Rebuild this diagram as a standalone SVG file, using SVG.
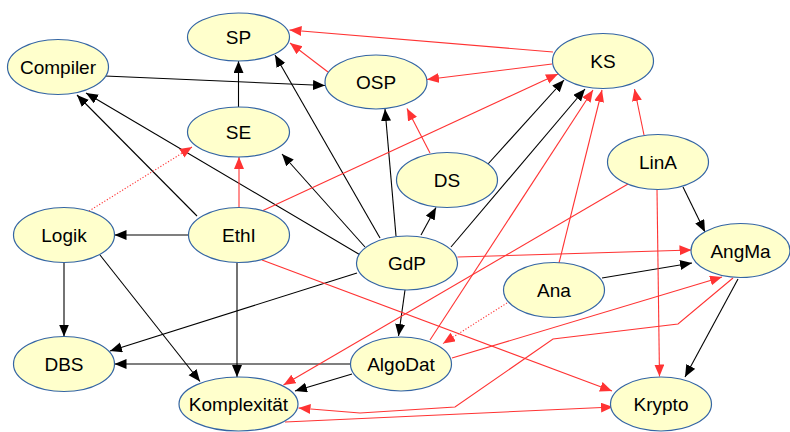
<svg xmlns="http://www.w3.org/2000/svg" width="790" height="432" viewBox="0 0 790 432">
<style>
.n ellipse{fill:#ffffcc;stroke:#3465a4;stroke-width:1.2}
.n text{font-family:"Liberation Sans",Arial,sans-serif;font-size:19px;fill:#000;text-anchor:middle}
.b{stroke:#000;stroke-width:1.1;fill:none;marker-end:url(#ab)}
.r{stroke:#ff3333;stroke-width:1.1;fill:none;marker-end:url(#ar)}
.d{stroke:#ff3333;stroke-width:1.1;fill:none;stroke-dasharray:1.2,1.8;marker-end:url(#ar)}
</style>
<defs>
<marker id="ab" markerUnits="userSpaceOnUse" markerWidth="13" markerHeight="11" refX="12" refY="5" orient="auto"><path d="M0,0 L12,5 L0,10 z" fill="#000"/></marker>
<marker id="ar" markerUnits="userSpaceOnUse" markerWidth="13" markerHeight="11" refX="12" refY="5" orient="auto"><path d="M0,0 L12,5 L0,10 z" fill="#ff3333"/></marker>
</defs>
<rect width="790" height="432" fill="#fff"/>
<g id="connectors">
<path class="b" d="M105,76 L325,85.5"/>
<path class="b" d="M238.5,107 L238.5,61"/>
<path class="b" d="M197,216 L77,95"/>
<path class="b" d="M362,256 L86,93"/>
<path class="b" d="M380,238 L275,55"/>
<path class="b" d="M365,247 L282,154"/>
<path class="b" d="M396,236 L385,109"/>
<path class="b" d="M421,235 L436,207.5"/>
<path class="b" d="M451,247 L585,89"/>
<path class="b" d="M488,164 L564,80"/>
<path class="b" d="M357,273 L110,351"/>
<path class="b" d="M405,290 L398.5,336"/>
<path class="b" d="M188.5,235 L114.5,235"/>
<path class="b" d="M64,263 L64,336.5"/>
<path class="b" d="M100,255 L200,381.5"/>
<path class="b" d="M237,263 L237,377"/>
<path class="b" d="M351,364 L114.5,364"/>
<path class="b" d="M352,374 L295,391"/>
<path class="b" d="M602,278 L692,263"/>
<path class="b" d="M683,187 L705,232"/>
<path class="b" d="M738,279 L685,377"/>
<path class="r" d="M553,52 L289.5,30"/>
<path class="r" d="M328,72 L290,43"/>
<path class="r" d="M552,64 L427,79.5"/>
<path class="r" d="M262,211 L558,74"/>
<path class="r" d="M239,207 L239,157"/>
<path class="r" d="M430,153 L407,108.5"/>
<path class="r" d="M430,340 L593,90"/>
<path class="r" d="M559,263 L602,90"/>
<path class="r" d="M644,135 L634.5,89"/>
<path class="r" d="M628,184 L283.5,385"/>
<path class="r" d="M657,189.5 L659.5,376.5"/>
<path class="r" d="M457.5,257 L691.5,250"/>
<path class="r" d="M262,260 L612,391"/>
<path class="r" d="M452,358 L722,277"/>
<path class="r" d="M733,278 L678,324 L553,339 L455,407 L360,413 L298.5,408"/>
<path class="r" d="M285,422 L613,407"/>
<path class="d" d="M89,211 L192,147"/>
<path class="d" d="M507,303 L443,343.5"/>
</g>
<g id="SP" class="n"><ellipse cx="238.5" cy="37" rx="51" ry="24"/><text x="238.5" y="44">SP</text></g>
<g id="Compiler" class="n"><ellipse cx="58" cy="67" rx="50.5" ry="27.5"/><text x="58" y="74">Compiler</text></g>
<g id="OSP" class="n"><ellipse cx="376" cy="82" rx="51" ry="27"/><text x="376" y="89">OSP</text></g>
<g id="KS" class="n"><ellipse cx="603" cy="61" rx="50.5" ry="27.5"/><text x="603" y="68">KS</text></g>
<g id="SE" class="n"><ellipse cx="238.5" cy="132" rx="51" ry="25"/><text x="238.5" y="139">SE</text></g>
<g id="DS" class="n"><ellipse cx="447" cy="180" rx="50.5" ry="27.5"/><text x="447" y="187">DS</text></g>
<g id="LinA" class="n"><ellipse cx="658" cy="162" rx="50.5" ry="27.5"/><text x="658" y="169">LinA</text></g>
<g id="Logik" class="n"><ellipse cx="64" cy="235" rx="50.5" ry="27.5"/><text x="64" y="242">Logik</text></g>
<g id="EthI" class="n"><ellipse cx="239" cy="235" rx="50.5" ry="27.5"/><text x="239" y="242">EthI</text></g>
<g id="GdP" class="n"><ellipse cx="407" cy="263" rx="50.5" ry="27"/><text x="407" y="270">GdP</text></g>
<g id="AngMa" class="n"><ellipse cx="740.5" cy="250.5" rx="49.5" ry="27"/><text x="740.5" y="257.5">AngMa</text></g>
<g id="Ana" class="n"><ellipse cx="554" cy="290" rx="50.5" ry="27.5"/><text x="554" y="297">Ana</text></g>
<g id="DBS" class="n"><ellipse cx="64" cy="364" rx="50.5" ry="27.5"/><text x="64" y="371">DBS</text></g>
<g id="AlgoDat" class="n"><ellipse cx="401" cy="364" rx="50.5" ry="27"/><text x="401" y="371">AlgoDat</text></g>
<g id="Komplexitaet" class="n"><ellipse cx="238.5" cy="404" rx="59.5" ry="27"/><text x="238.5" y="411">Komplexität</text></g>
<g id="Krypto" class="n"><ellipse cx="661" cy="404" rx="50.5" ry="27"/><text x="661" y="411">Krypto</text></g>
</svg>
